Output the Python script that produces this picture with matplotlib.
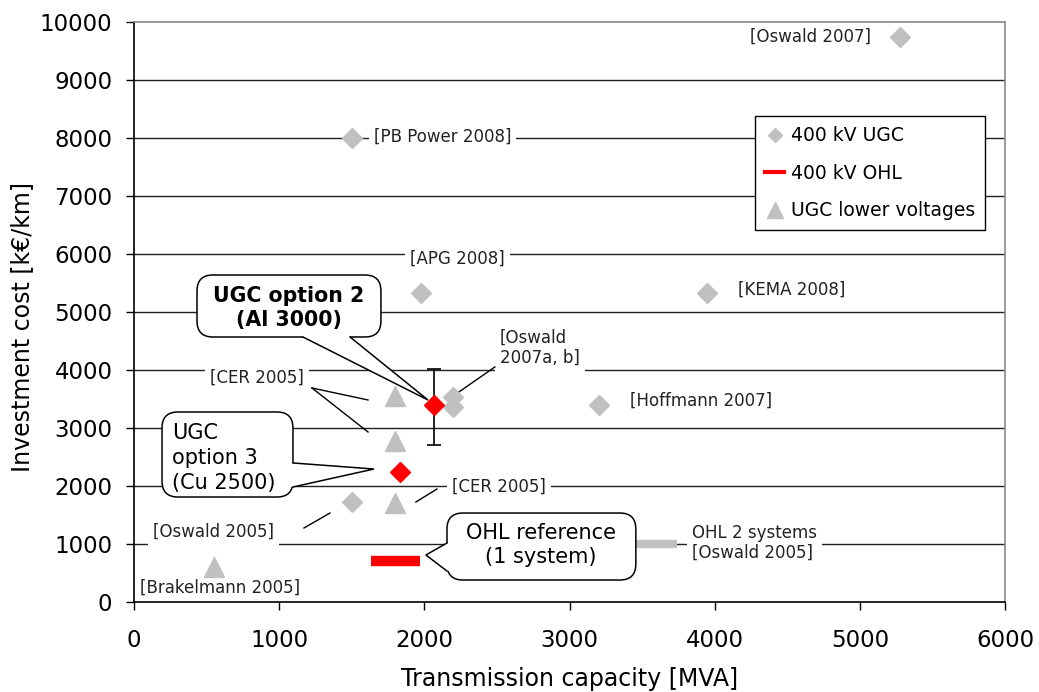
import matplotlib
matplotlib.use("Agg")
import matplotlib.pyplot as plt
from matplotlib.lines import Line2D
from matplotlib.patches import FancyBboxPatch, Polygon

plt.rcParams["font.family"] = ["DejaVu Sans"]

# ---- data -------------------------------------------------------------
# 400 kV underground cable studies (capacity MVA, cost kEUR/km)
ugc400_x = [5280, 1500, 1980, 3950, 2200, 2200, 3200, 1500]
ugc400_y = [9750, 8000, 5330, 5330, 3530, 3370, 3400, 1720]

# evaluated cable options (option 2 with uncertainty range)
option_x = [2070, 1830]
option_y = [3400, 2250]
option2_err_low = 700
option2_err_high = 620

# underground cables at lower voltages
lowv_x = [1800, 1800, 1800, 550]
lowv_y = [3550, 2780, 1710, 600]

# overhead line references: capacity range and cost
ohl1_x = [1630, 1970]
ohl1_y = [700, 700]
ohl2_x = [3450, 3740]
ohl2_y = [1000, 1000]

x_ticks = [0, 1000, 2000, 3000, 4000, 5000, 6000]
y_ticks = list(range(0, 10001, 1000))

GREY = "#C0C0C0"
RED = "#FF0000"

fig = plt.figure(figsize=(10.39, 6.92), dpi=100)
ax = fig.add_axes([134 / 1039, 1 - 602 / 692, 871 / 1039, 580 / 692])
ax.set_xlim(0, 6000)
ax.set_ylim(0, 10000)
ax.set_xticks(x_ticks)
ax.set_yticks(y_ticks)
ax.tick_params(axis="both", labelsize=16.5, length=5.5, width=1, color="black")
ax.tick_params(axis="x", pad=14)
ax.tick_params(axis="y", pad=10)
ax.set_xlabel("Transmission capacity [MVA]", fontsize=17)
ax.set_ylabel("Investment cost [k€/km]", fontsize=17)
ax.xaxis.set_label_coords(0.5, (602 - 667) / 580)
ax.yaxis.set_label_coords((22 - 134) / 871, (602 - 327) / 580)
ax.yaxis.label.set_va("center")

ax.set_axisbelow(True)
ax.yaxis.grid(True, color="#222222", lw=1.0)
ax.get_ygridlines()[-1].set_visible(False)
ax.get_ygridlines()[0].set_visible(False)
for side in ("left", "bottom"):
    ax.spines[side].set_color("black")
    ax.spines[side].set_linewidth(1.2)
for side in ("top", "right"):
    ax.spines[side].set_color("#8a8a8a")
    ax.spines[side].set_linewidth(1.2)

# ---- marks ------------------------------------------------------------
ax.plot(ugc400_x, ugc400_y, ls="none", marker="D", ms=10, color=GREY,
        mec=GREY, zorder=4)
ax.plot(lowv_x, lowv_y, ls="none", marker="^", ms=14, color=GREY,
        mec=GREY, zorder=4)
ax.plot(ohl1_x, ohl1_y, color=RED, lw=7.5, solid_capstyle="butt", zorder=4)
ax.plot(ohl2_x, ohl2_y, color=GREY, lw=6, solid_capstyle="butt", zorder=4)
ax.errorbar(option_x[:1], option_y[:1],
            yerr=[[option2_err_low], [option2_err_high]],
            fmt="none", ecolor="black", elinewidth=1.2, capsize=5,
            capthick=1.2, zorder=4)
ax.plot(option_x, option_y, ls="none", marker="D", ms=10, color=RED,
        mec=RED, zorder=5)

# ---- source labels ----------------------------------------------------
label_box = dict(boxstyle="square,pad=0.3", fc="white", ec="none")
source_labels = [
    ("[Oswald 2007]", 4660, 9741, "center"),
    ("[PB Power 2008]", 1650, 8030, "left"),
    ("[APG 2008]", 1900, 5914, "left"),
    ("[KEMA 2008]", 4160, 5379, "left"),
    ("[Oswald\n2007a, b]", 2521, 4379, "left"),
    ("[Hoffmann 2007]", 3416, 3466, "left"),
    ("[CER 2005]", 523, 3862, "left"),
    ("[CER 2005]", 2190, 1983, "left"),
    ("[Oswald 2005]", 131, 1207, "left"),
    ("[Brakelmann 2005]", 41, 241, "left"),
    ("OHL 2 systems\n[Oswald 2005]", 3843, 1017, "left"),
]
for txt, lx, ly, ha in source_labels:
    ax.text(lx, ly, txt, fontsize=12, ha=ha, va="center", color="#222222",
            linespacing=1.15, bbox=label_box, zorder=2)

leaders = [
    ((2486, 4052), (2238, 3621)),
    ((1226, 3690), (1612, 3483)),
    ((1226, 3690), (1612, 2931)),
    ((2087, 1948), (1942, 1724)),
    ((1171, 1276), (1350, 1534)),
]
for (xa, ya), (xb, yb) in leaders:
    ax.plot([xa, xb], [ya, yb], color="black", lw=1, zorder=3.5)

# ---- callouts ---------------------------------------------------------
px_x = 871 / 6000.0
px_y = 580 / 10000.0
aspect = px_x / px_y


def callout(x0, y0, x1, y1, base_a, base_b, tip, inset):
    box = FancyBboxPatch((x0, y0), x1 - x0, y1 - y0,
                         boxstyle="round,pad=0,rounding_size=110",
                         mutation_aspect=aspect, fc="white", ec="black",
                         lw=1.1, zorder=6)
    ax.add_patch(box)
    dx, dy = inset
    cover = Polygon([base_a, tip, base_b,
                     (base_b[0] + dx, base_b[1] + dy),
                     (base_a[0] + dx, base_a[1] + dy)],
                    closed=True, fc="white", ec="none", zorder=7)
    ax.add_patch(cover)
    ax.plot([base_a[0], tip[0], base_b[0]], [base_a[1], tip[1], base_b[1]],
            color="black", lw=1.1, zorder=8, solid_joinstyle="miter")


# UGC option 2
callout(434, 4569, 1701, 5638, (1164, 4569), (1488, 4569), (2025, 3483),
        (0, 60))
ax.text(1067, 5069, "UGC option 2\n(Al 3000)", fontsize=14.8,
        fontweight="bold", ha="center", va="center", linespacing=1.2,
        zorder=9)

# UGC option 3
callout(193, 1810, 1095, 3276, (1095, 2397), (1095, 1983), (1653, 2293),
        (-25, 0))
ax.text(262, 2483, "UGC\noption 3\n(Cu 2500)", fontsize=15, ha="left",
        va="center", linespacing=1.33, zorder=9)

# OHL reference
callout(2156, 379, 3457, 1534, (2156, 1017), (2156, 534), (2011, 810),
        (25, 0))
ax.text(2803, 983, "OHL reference\n(1 system)", fontsize=15, ha="center",
        va="center", linespacing=1.3, zorder=9)

# ---- legend -----------------------------------------------------------
handles = [
    Line2D([], [], ls="none", marker="D", ms=7, color=GREY, mec=GREY),
    Line2D([], [], color=RED, lw=3),
    Line2D([], [], ls="none", marker="^", ms=11, color=GREY, mec=GREY),
]
labels = ["400 kV UGC", "400 kV OHL", "UGC lower voltages"]
leg = ax.legend(handles, labels, loc="upper left",
                bbox_to_anchor=((755 - 134) / 871, (602 - 116) / 580),
                borderaxespad=0, fontsize=13.5, frameon=True,
                fancybox=False, edgecolor="black", framealpha=1,
                handlelength=1.0, handletextpad=0.35, labelspacing=0.98,
                borderpad=0.55)
leg.get_frame().set_linewidth(1)
leg.set_zorder(10)

fig.savefig("out.png", dpi=100)
